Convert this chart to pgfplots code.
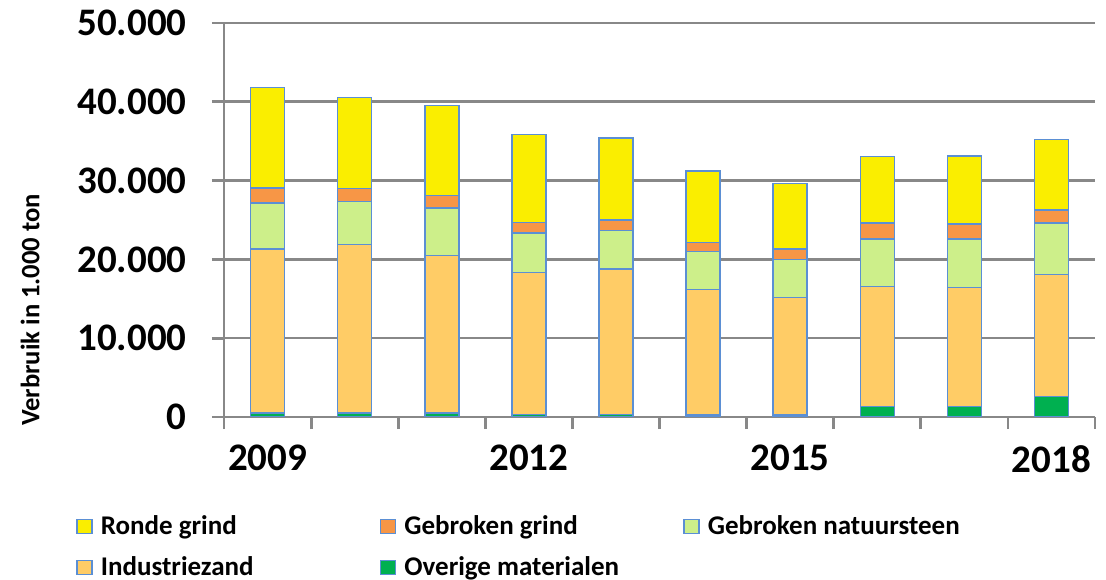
\documentclass[border=0pt]{standalone}
\usepackage{pgfplots}
\pgfplotsset{compat=1.18}
\usepackage{pgfplotstable}
\usepackage{fontspec}
\setmainfont{Carlito}
\definecolor{cRonde}{HTML}{FAEE00}
\definecolor{cGebr}{HTML}{F79646}
\definecolor{cNat}{HTML}{CDEF8A}
\definecolor{cInd}{HTML}{FFCC66}
\definecolor{cOv}{HTML}{00B050}
\definecolor{cEdge}{HTML}{5B8FD4}
\definecolor{cAxis}{HTML}{888888}
\pgfplotstableread{
x ov ind nat gg rg
0 500 20830 5810 1910 12770
1 500 21420 5430 1660 11540
2 500 19980 6020 1620 11410
3 300 18020 5050 1310 11200
4 300 18490 4870 1360 10390
5 250 15950 4830 1110 9070
6 250 14930 4790 1320 8310
7 1360 15220 5980 2080 8400
8 1360 15050 6150 1910 8650
9 2630 15440 6530 1650 8990
}\data
\pgfplotsset{
  myleg/.style={legend image code/.code={\draw[##1] (0bp,-3.5bp) rectangle (7.5bp,3.5bp);}},
}
\begin{document}
\begin{tikzpicture}
\path[use as bounding box] (0,0) rectangle (553bp,290bp);
\begin{axis}[
  at={(112bp,81.5bp)}, anchor=south west,
  scale only axis, width=435.5bp, height=197bp,
  ybar stacked, bar width=17bp,
  xmin=-0.5, xmax=9.5, ymin=0, ymax=50000,
  axis x line=bottom, axis y line=left,
  axis line style={-, draw=cAxis, line width=1.4bp},
  tick align=outside, tick pos=left,
  xtick={0,3,6,9}, xticklabels={2009,2012,2015,2018},
  minor xtick={-0.5,0.5,...,9.5},
  major tick length=6bp, minor tick length=6bp,
  major x tick style={draw=none},
  minor x tick style={draw=cAxis, line width=1.4bp},
  ytick={0,10000,...,50000},
  major y tick style={draw=cAxis, line width=1.4bp},
  ymajorgrids, grid style={draw=cAxis, line width=1.3bp},
  scaled y ticks=false,
  /pgf/number format/.cd, fixed, precision=0, 1000 sep={.}, assume math mode=true,
  /pgfplots/.cd,
  ticklabel style={font=\fontsize{19.5bp}{22bp}\selectfont\bfseries, inner sep=0pt},
  yticklabel style={xshift=-12.5bp},
  xticklabel style={yshift=-8bp},
  ylabel={Verbruik in 1.000 ton},
  ylabel style={at={(axis description cs:-0.2227,0.2716)}, anchor=center, font=\fontsize{13.3bp}{15bp}\selectfont\bfseries},
  legend columns=3,
  legend style={at={(axis description cs:-0.1699,-0.330)}, anchor=west, draw=none, fill=none,
    inner sep=0pt, row sep=9.5bp,
    font=\fontsize{13.5bp}{16bp}\selectfont\bfseries,
    nodes={inner sep=0pt, anchor=west},
    /tikz/every odd column/.append style={column sep=4bp}},
  legend cell align=left,
]
\addlegendimage{myleg, fill=cRonde, draw=cEdge, line width=0.75bp}
\addlegendentry{\makebox[139.5bp][l]{Ronde grind}}
\addlegendimage{myleg, fill=cGebr, draw=cEdge, line width=0.75bp}
\addlegendentry{\makebox[139.5bp][l]{Gebroken grind}}
\addlegendimage{myleg, fill=cNat, draw=cEdge, line width=0.75bp}
\addlegendentry{\makebox[139.5bp][l]{Gebroken natuursteen}}
\addlegendimage{myleg, fill=cInd, draw=cEdge, line width=0.75bp}
\addlegendentry{\makebox[139.5bp][l]{Industriezand}}
\addlegendimage{myleg, fill=cOv, draw=cEdge, line width=0.75bp}
\addlegendentry{\makebox[139.5bp][l]{Overige materialen}}
\addplot[forget plot, fill=cOv, draw=cEdge, line width=0.75bp] table[x=x, y=ov] {\data};
\addplot[forget plot, fill=cInd, draw=cEdge, line width=0.75bp] table[x=x, y=ind] {\data};
\addplot[forget plot, fill=cNat, draw=cEdge, line width=0.75bp] table[x=x, y=nat] {\data};
\addplot[forget plot, fill=cGebr, draw=cEdge, line width=0.75bp] table[x=x, y=gg] {\data};
\addplot[forget plot, fill=cRonde, draw=cEdge, line width=0.75bp] table[x=x, y=rg] {\data};
\end{axis}
\end{tikzpicture}
\end{document}
